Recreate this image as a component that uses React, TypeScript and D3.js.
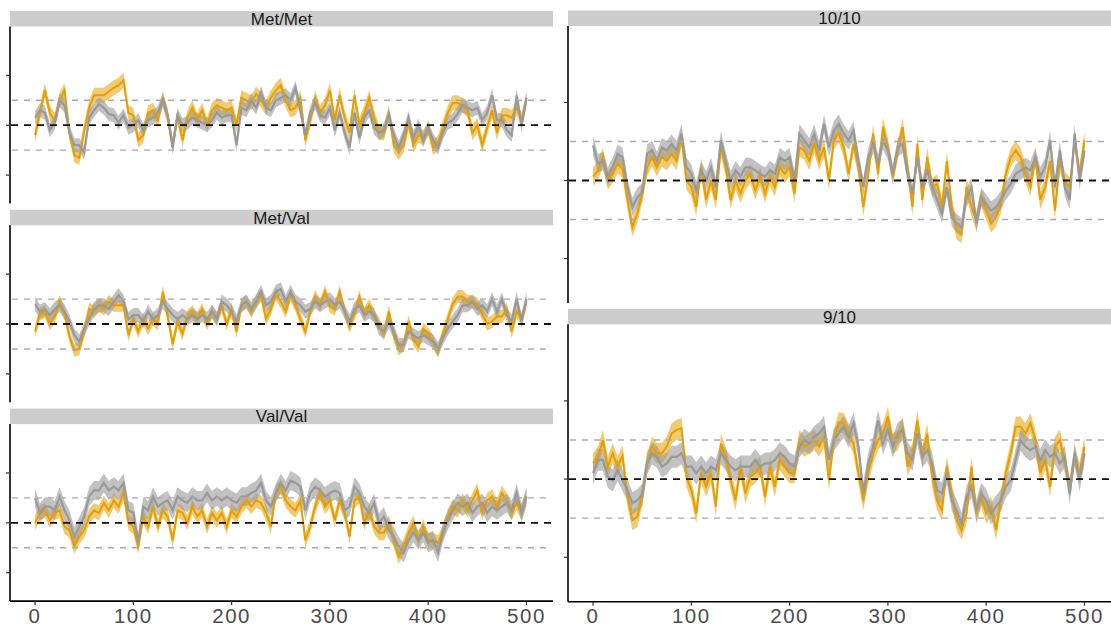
import React from 'react';
import * as d3 from 'd3';

// sampled every 5 time units, 0..500
const STEP = 5;
const X_TICKS = [0, 100, 200, 300, 400, 500];
const Y_TICKS = [-2, 0, 2];
const GUIDES = [-1, 1];

const panelLabels = ['Met/Met', 'Met/Val', 'Val/Val', '10/10', '9/10'];

const metMetA = [
  -0.4, 0.5, 1.4, 0.5, 0.2, 1.0, 1.4, -0.3, -1.2, -1.3,
  -0.2, 0.7, 1.2, 1.2, 1.2, 1.35, 1.5, 1.6, 1.8, 0.5,
  0.4, -0.6, -0.4, 0.5, 0.6, 0.2, 1.1, 0.3, -0.8, 0.4,
  -0.6, 0.3, 0.7, 0.2, 0.6, 0.0, 0.6, 0.8, 0.7, 0.6,
  0.7, 0.0, 1.1, 1.0, 0.9, 1.25, 1.0, 0.7, 1.1, 1.4,
  1.6, 1.0, 0.6, 0.7, 1.1, -0.6, 0.2, 1.1, 0.5, 0.8,
  1.4, 0.2, 1.2, 0.3, -0.3, 1.2, 0.0, 0.5, 1.1, 0.3,
  -0.3, -0.3, 0.5, -0.8, -1.1, -0.8, 0.1, -0.8, -0.4, -0.5,
  -0.1, -0.9, -0.7, -0.1, 0.5, 0.9, 0.9, 0.8, 0.6, -0.3,
  0.0, -0.8, -0.1, 0.6, -0.3, 0.4, 0.4, 0.3, 0.7, 0.2,
  1.0,
];
const metMetB = [
  0.3, 0.6, 0.5, -0.2, 0.1, 1.0, 0.8, -0.3, -0.8, -0.8,
  -1.1, 0.3, 0.6, 0.85, 0.7, 0.45, 0.4, 0.1, 0.4, -0.1,
  0.0, 0.2, -0.2, 0.2, 0.3, 0.5, 1.0, 0.4, -0.9, 0.4,
  0.0, 0.1, 0.3, 0.2, 0.1, 0.0, 0.2, 0.5, 0.3, 0.4,
  0.4, -0.8, 0.7, 0.6, 1.0, 0.7, 1.3, 0.7, 0.6, 1.0,
  1.1, 1.2, 1.0, 1.5, 0.6, -0.4, 0.5, 0.9, 0.4, 0.3,
  0.7, -0.2, 0.5, -0.3, -0.9, 0.5, -0.5, 0.3, 0.6, -0.1,
  -0.3, -0.2, 0.4, -0.4, -0.9, -0.4, 0.3, -0.5, 0.0, -0.6,
  -0.1, -0.6, -0.9, -0.3, 0.1, 0.2, 0.45, 0.8, 0.7, 0.6,
  0.7, 0.2, 0.5, 1.2, 0.2, 0.2, -0.2, -0.4, 1.2, 0.0,
  1.1,
];
const metValA = [
  -0.3, 0.4, 0.5, 0.0, 0.3, 0.9, 0.4, -0.5, -1.05, -1.0,
  -0.3, 0.6, 0.5, 0.75, 0.6, 0.9, 0.75, 0.75, 0.75, -0.45,
  0.2, -0.3, 0.2, -0.17, 0.2, 0.0, 1.3, 0.3, -0.8, 0.1,
  -0.4, 0.3, 0.5, 0.2, 0.6, 0.0, 0.5, 0.2, 0.7, 0.0,
  0.6, -0.3, 0.75, 0.9, 0.5, 0.9, 1.15, 0.2, 0.6, 1.2,
  0.9, 0.5, 1.15, 0.75, 0.2, -0.3, 0.5, 1.1, 0.75, 1.3,
  0.7, 0.6, 1.3, 0.5, -0.1, 0.4, 1.1, 0.4, 0.75, 0.3,
  0.0, -0.4, 0.5, -0.45, -1.0, -0.85, 0.1, -0.6, -0.9, -0.2,
  -0.4, -0.7, -1.1, -0.4, 0.2, 0.8, 1.1, 1.1, 0.9, 0.9,
  0.8, 0.4, 0.0, 0.1, 0.3, 0.3, 0.6, -0.3, 0.5, 0.2,
  0.9,
];
const metValB = [
  0.8, 0.5, 0.6, 0.36, 0.6, 0.75, 0.5, 0.1, -0.45, -0.7,
  -0.2, 0.2, 0.6, 0.75, 0.75, 0.6, 0.9, 1.15, 0.9, 0.2,
  0.36, 0.36, 0.1, 0.5, 0.2, 0.36, 0.9, 0.6, 0.36, 0.2,
  0.36, 0.2, 0.36, 0.2, 0.36, 0.2, 0.5, 0.2, 0.9, 0.75,
  0.5, 0.1, 0.75, 0.9, 0.6, 0.9, 1.3, 0.75, 0.9, 1.3,
  1.4, 0.9, 1.3, 0.9, 0.75, 0.5, 0.6, 0.9, 0.75, 0.9,
  1.0, 0.75, 0.9, 0.5, 0.1, 0.6, 0.75, 0.36, 0.5, 0.36,
  -0.17, -0.3, 0.1, -0.3, -0.84, -0.84, -0.3, -0.45, -0.57, -0.45,
  -0.57, -0.7, -1.0, -0.57, -0.17, 0.1, 0.36, 0.75, 0.75, 0.9,
  0.6, 0.75, 0.5, 1.0, 0.5, 1.0, 0.36, 0.1, 1.0, 0.1,
  1.0,
];
const valValA = [
  0.0, 0.4, 0.5, 0.1, 0.4, 0.5, -0.15, -0.3, -0.95, -0.55,
  -0.3, 0.25, 0.5, 0.4, 0.8, 0.5, 0.9, 0.65, 1.2, 0.0,
  -0.15, -0.95, 0.25, -0.15, 0.65, -0.15, 0.5, 0.25, -0.7, 0.5,
  0.4, 0.0, 0.65, 0.25, 0.5, -0.15, 0.4, 0.1, 0.4, -0.15,
  0.5, 0.25, 0.65, 0.9, 0.65, 0.9, 0.8, 0.4, -0.15, 1.2,
  1.45, 0.9, 0.65, 0.5, 0.9, -0.7, -0.15, 0.65, 1.2, 0.65,
  0.9, 0.1, 0.9, 0.4, -0.55, 0.9, 1.05, 0.0, 0.5, -0.15,
  -0.4, -0.4, 0.0, -0.7, -1.35, -0.95, -0.4, 0.0, -0.7, -0.15,
  -0.7, -0.7, -0.8, -0.4, 0.25, 0.65, 0.5, 0.9, 0.5, 0.9,
  1.3, 0.4, 0.9, 1.05, 0.65, 1.2, 0.9, 0.4, 0.8, 0.4,
  1.05,
];
const valValB = [
  1.0, 0.4, 0.65, 0.65, 0.5, 1.05, 0.5, 0.1, -0.55, -0.15,
  0.25, 1.05, 1.3, 1.3, 1.6, 1.3, 1.45, 1.3, 1.6, 0.5,
  0.4, -0.8, 0.65, 0.5, 1.05, 0.65, 0.8, 0.9, 0.5, 1.05,
  0.9, 0.8, 1.05, 0.9, 0.9, 1.2, 0.9, 1.05, 0.9, 1.05,
  0.9, 0.8, 1.05, 1.05, 1.2, 1.3, 1.6, 0.9, 0.65, 1.2,
  1.6, 1.3, 1.7, 1.6, 1.45, 0.5, 1.2, 1.45, 1.3, 1.05,
  1.2, 1.3, 1.2, 0.5, 0.65, 1.45, 1.2, 0.65, 0.4, 0.8,
  0.0, 0.25, -0.3, -0.55, -0.95, -1.2, -0.7, -0.4, -0.7, -0.4,
  -0.8, -0.7, -1.2, -0.4, 0.1, 0.5, 0.8, 0.65, 0.8, 0.4,
  0.65, 0.8, 0.4, 0.65, 0.5, 0.65, 0.8, 0.5, 1.2, 0.4,
  1.05,
];
const tenTenA = [
  0.1, 0.25, 0.6, 0.0, 0.17, 0.43, 0.3, -0.5, -1.2, -0.85,
  -0.34, 0.34, 0.6, 0.34, 0.6, 0.5, 0.68, 0.5, 1.1, 0.0,
  -0.17, -0.68, 0.34, -0.5, 0.0, -0.5, 0.85, 0.34, -0.5, 0.0,
  -0.34, 0.0, 0.17, -0.26, 0.1, -0.34, 0.1, -0.17, 0.34, 0.17,
  0.34, -0.34, 0.85, 0.77, 0.5, 0.94, 0.5, 0.85, 0.0, 1.03,
  1.2, 0.85, 0.17, 0.94, 0.34, -0.68, 0.17, 1.2, 0.17, 1.37,
  0.85, 0.1, 0.77, 1.37, 0.34, -0.68, 0.94, -0.5, 0.6, -0.17,
  -0.09, -0.68, 0.5, -0.68, -1.28, -1.37, -0.17, -0.68, -1.03, -0.43,
  -0.77, -1.1, -0.94, -0.6, 0.17, 0.6, 0.77, 0.6, 0.17, -0.17,
  0.6, -0.5, -0.17, 0.5, -0.77, 0.5, 0.0, -0.17, 1.03, 0.17,
  1.03,
];
const tenTenB = [
  0.9, 0.43, 0.5, 0.1, 0.34, 0.68, 0.6, -0.17, -0.68, -0.43,
  -0.3, 0.68, 0.77, 0.5, 0.85, 0.77, 0.94, 0.77, 1.2, 0.34,
  0.17, -0.26, 0.26, 0.0, 0.34, -0.17, 1.03, 0.5, 0.0, 0.26,
  0.1, 0.34, 0.34, 0.26, 0.17, 0.1, 0.26, 0.17, 0.6, 0.5,
  0.6, 0.0, 1.2, 1.03, 0.85, 1.2, 0.77, 1.45, 0.85, 1.28,
  1.45, 1.2, 1.03, 1.28, 0.5, -0.17, 0.6, 0.94, 0.43, 1.03,
  0.77, 0.17, 0.85, 0.94, 0.17, -0.34, 0.6, -0.17, 0.26, -0.17,
  -0.5, -0.85, -0.17, -0.94, -1.1, -1.2, -0.43, -0.17, -1.1, -0.43,
  -0.6, -0.77, -0.68, -0.5, -0.26, -0.09, 0.17, 0.26, 0.34, 0.26,
  0.6, 0.1, 0.34, 1.03, -0.17, 0.77, -0.17, -0.5, 1.2, 0.0,
  0.77,
];
const nineTenA = [
  0.4, 0.57, 1.0, 0.32, 0.66, 0.32, 0.6, -0.45, -1.05, -0.97,
  -0.45, 0.4, 0.83, 0.66, 0.66, 0.83, 1.17, 1.26, 1.3, 0.06,
  -0.28, -0.88, 0.15, -0.2, 0.15, -0.7, 0.91, 0.57, -0.03, -0.54,
  0.32, -0.37, 0.06, 0.15, 0.32, -0.45, 0.32, -0.2, 0.49, 0.32,
  0.15, 0.15, 1.0, 0.83, 0.91, 1.0, 0.83, 1.08, -0.03, 1.0,
  1.45, 1.43, 1.17, 0.91, 0.15, -0.54, 0.15, 0.66, 1.0, 1.17,
  1.6, 0.91, 1.0, 1.34, 0.32, 0.66, 1.5, 0.57, 1.17, 0.06,
  -0.54, -0.8, 0.32, -0.37, -1.05, -1.3, -0.88, 0.32, -0.88, -0.45,
  -0.88, -0.7, -1.3, -0.54, 0.15, 0.66, 1.34, 1.34, 1.17, 1.43,
  1.0, 0.15, 0.49, -0.2, 0.83, 1.0, 0.4, -0.2, 0.57, 0.15,
  0.83,
];
const nineTenB = [
  0.15, 0.49, 0.49, 0.06, -0.03, 0.23, -0.03, -0.28, -0.62, -0.54,
  -0.4, 0.4, 0.66, 0.57, 0.32, 0.4, 0.57, 0.57, 0.66, 0.32,
  0.32, 0.15, 0.32, 0.15, 0.32, 0.23, 0.66, 0.49, 0.32, 0.23,
  0.32, 0.32, 0.32, 0.49, 0.32, 0.4, 0.4, 0.49, 0.66, 0.57,
  0.4, 0.32, 0.83, 1.0, 0.91, 1.08, 1.17, 1.34, 0.49, 1.0,
  1.17, 1.34, 1.08, 1.43, 0.83, -0.37, 0.4, 0.83, 1.5, 0.91,
  1.26, 0.83, 1.17, 1.26, 0.66, 0.49, 1.17, 0.57, 0.74, 0.4,
  -0.28, -0.37, 0.15, -0.54, -0.8, -1.14, -0.45, -0.2, -0.8, -0.37,
  -0.54, -0.88, -0.7, -0.54, -0.2, -0.03, 0.49, 1.0, 0.83, 0.74,
  0.83, 0.49, 0.74, 0.57, 0.66, 0.4, 0.57, -0.37, 0.66, -0.03,
  0.66,
];

const orangeSeries = [metMetA, metValA, valValA, tenTenA, nineTenA];
const greySeries = [metMetB, metValB, valValB, tenTenB, nineTenB];
// half width of the ribbons
const orangeSE = [0.3, 0.26, 0.3, 0.24, 0.26];
const greySE = [0.28, 0.28, 0.38, 0.24, 0.28];

// layout (px): strip top, plot height, column, whether the x axis is shown
const layout = [
  { x0: 10, x1: 553, top: 11, h: 177, xAxis: false },
  { x0: 10, x1: 553, top: 209.8, h: 177, xAxis: false },
  { x0: 10, x1: 553, top: 408.6, h: 177, xAxis: true },
  { x0: 568, x1: 1111, top: 10.5, h: 277, xAxis: false },
  { x0: 568, x1: 1111, top: 308.8, h: 277.5, xAxis: true },
];

const ORANGE = '#E69F00';
const GREY = '#999999';
const FONT = '"Liberation Sans", Arial, sans-serif';
const STRIP_H = 15.5;

function Panel({ i }: { i: number }) {
  const L = layout[i];
  const plotTop = L.top + STRIP_H;
  const x = d3.scaleLinear().domain([-25.5, 527]).range([L.x0, L.x1]);
  const y = d3.scaleLinear().domain([-3.14, 3.96]).range([plotTop + L.h, plotTop]);

  const pts = (arr: number[]) => arr.map((v, k) => [k * STEP, v] as [number, number]);
  const line = d3.line<[number, number]>().x(d => x(d[0])).y(d => y(d[1]));
  const area = (se: number) =>
    d3.area<[number, number]>()
      .x(d => x(d[0]))
      .y0(d => y(d[1] - se))
      .y1(d => y(d[1] + se));

  const a = pts(orangeSeries[i]);
  const b = pts(greySeries[i]);
  const bottom = plotTop + L.h;

  return (
    <g>
      <rect x={L.x0} y={L.top} width={L.x1 - L.x0} height={STRIP_H} fill="#cdcdcd" />
      <text x={(L.x0 + L.x1) / 2} y={L.top + STRIP_H / 2} dy="0.36em" textAnchor="middle"
        fontFamily={FONT} fontSize={17} fill="#1a1a1a">{panelLabels[i]}</text>

      <path d={area(orangeSE[i])(a) || ''} fill={ORANGE} opacity={0.55} />
      <path d={area(greySE[i])(b) || ''} fill={GREY} opacity={0.6} />
      <path d={line(a) || ''} fill="none" stroke={ORANGE} strokeWidth={2} />
      <path d={line(b) || ''} fill="none" stroke={GREY} strokeWidth={2.2} />

      {GUIDES.map(g => (
        <line key={g} x1={L.x0 + 2} x2={L.x1 - 5} y1={y(g)} y2={y(g)}
          stroke="#aaaaaa" strokeWidth={1.4} strokeDasharray="6,6" />
      ))}
      <line x1={L.x0 + 1} x2={L.x1} y1={y(0)} y2={y(0)} stroke="#111" strokeWidth={1.8} strokeDasharray="7,6" />

      <line x1={L.x0} x2={L.x0} y1={plotTop} y2={bottom} stroke="#000" strokeWidth={1.6} />
      {Y_TICKS.map(t => (
        <line key={t} x1={L.x0 - 4} x2={L.x0} y1={y(t)} y2={y(t)} stroke="#333" strokeWidth={1.2} />
      ))}

      {L.xAxis && (
        <g>
          <line x1={L.x0} x2={L.x1} y1={bottom} y2={bottom} stroke="#000" strokeWidth={1.6} />
          {X_TICKS.map(t => (
            <g key={t}>
              <line x1={x(t)} x2={x(t)} y1={bottom} y2={bottom + 4} stroke="#333" strokeWidth={1.2} />
              <text x={x(t)} y={622.5} textAnchor="middle" fontFamily={FONT} fontSize={20.5}
                letterSpacing={1.5} fill="#4d4d4d">{t}</text>
            </g>
          ))}
        </g>
      )}
    </g>
  );
}

export default function App() {
  return (
    <svg width={1111} height={627} style={{ position: 'absolute', left: 0, top: 0, background: '#fff' }}>
      <rect width={1111} height={627} fill="#fff" />
      {panelLabels.map((_, i) => <Panel key={i} i={i} />)}
    </svg>
  );
}
